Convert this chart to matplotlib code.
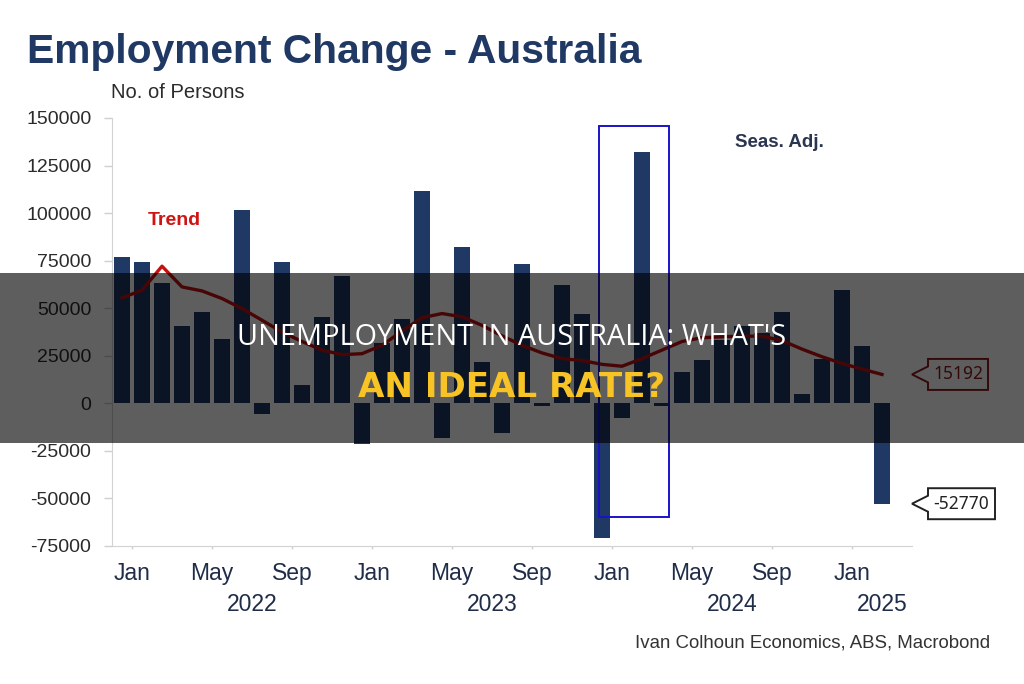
import matplotlib
matplotlib.use("Agg")
import matplotlib.pyplot as plt
import numpy as np
from matplotlib.patches import Rectangle, Polygon
from matplotlib.transforms import Affine2D, blended_transform_factory

plt.rcParams['font.family'] = ['Liberation Sans', 'DejaVu Sans']

# monthly data, Dec 2021 .. Feb 2025 (index 0 = Dec 2021)
months = ['Dec21', 'Jan22', 'Feb22', 'Mar22', 'Apr22', 'May22', 'Jun22', 'Jul22', 'Aug22', 'Sep22',
          'Oct22', 'Nov22', 'Dec22', 'Jan23', 'Feb23', 'Mar23', 'Apr23', 'May23', 'Jun23', 'Jul23',
          'Aug23', 'Sep23', 'Oct23', 'Nov23', 'Dec23', 'Jan24', 'Feb24', 'Mar24', 'Apr24', 'May24',
          'Jun24', 'Jul24', 'Aug24', 'Sep24', 'Oct24', 'Nov24', 'Dec24', 'Jan25', 'Feb25']
seas_adj = [76800, 74200, 63300, 40700, 48100, 34000, 101700, -5600, 74200, 9800,
            45300, 67000, -21600, 31700, 44200, 111700, -18300, 82100, 21700, -15600,
            73000, -1200, 62300, 47000, -71000, -7500, 131900, -1200, 16500, 23000,
            33200, 40500, 36800, 48100, 5100, 23500, 59800, 30200, -52770]
trend = [55400, 59500, 72100, 61200, 59100, 55100, 49800, 43700, 37500, 32500,
         28000, 25600, 26100, 30500, 38000, 45000, 47200, 45500, 41000, 35500,
         30500, 26500, 23500, 22500, 20500, 19500, 23500, 28000, 32500, 34500,
         35000, 35300, 35300, 33000, 28500, 24500, 21000, 18000, 15192]

tick_pos = [0.5, 4.5, 8.5, 12.5, 16.5, 20.5, 24.5, 28.5, 32.5, 36.5]
tick_labels = ['Jan', 'May', 'Sep', 'Jan', 'May', 'Sep', 'Jan', 'May', 'Sep', 'Jan']
jan_pos = [0.5, 12.5, 24.5, 36.5]
years = ['2022', '2023', '2024', '2025']
yticks = list(range(-75000, 150001, 25000))

# highlighted months (Dec23 - Mar24)
box_x = (23.87, 27.35)
box_y = (-60000, 146000)

navy = '#1f3864'
x = np.arange(len(months))
x_end = len(months) + 0.5

fig = plt.figure(figsize=(10.24, 6.84), dpi=100)
ax = fig.add_axes([112/1024, 1-546/684, 800/1024, 428/684])

ax.bar(x, seas_adj, width=0.82, color=navy, zorder=2)
ax.plot(x, trend, color='#c41010', lw=2.4, zorder=3)
ax.add_patch(Rectangle((box_x[0], box_y[0]), box_x[1]-box_x[0], box_y[1]-box_y[0],
                       fill=False, edgecolor='#1a12c8', lw=1.4, zorder=4))

ax.set_xlim(-0.5, x_end)
ax.set_ylim(-75000, 150000)

ax.set_yticks(yticks)
ax.set_yticklabels([str(v) for v in yticks])
ax.tick_params(axis='y', length=5.8, width=1, color='#cfcfcf', pad=9, labelsize=14, labelcolor='#2b2b2b')

ax.set_xticks(tick_pos)
ax.set_xticklabels(tick_labels)
ax.set_xticks(jan_pos, minor=True)
ax.tick_params(axis='x', which='major', length=2.2, width=1, color='#cfcfcf', pad=9,
               labelsize=16.5, labelcolor='#1f2d48')
ax.tick_params(axis='x', which='minor', length=6.5, width=1, color='#cfcfcf')

for s in ['top', 'right']:
    ax.spines[s].set_visible(False)
for s in ['left', 'bottom']:
    ax.spines[s].set_color('#d2d2d2')

# year labels centred on the visible part of each year
trans = blended_transform_factory(ax.transData, ax.transAxes)
bounds = jan_pos + [x_end]
for i, yr in enumerate(years):
    ax.text((bounds[i]+bounds[i+1])/2, -0.152, yr, transform=trans, ha='center', va='baseline',
            fontsize=16.5, color='#1f2d48')

ax.text(1.28, 93500, 'Trend', color='#d01414', fontsize=14, fontweight='bold', va='baseline')
ax.text(30.67, 134500, 'Seas. Adj.', color='#2a3550', fontsize=13.5, fontweight='bold', va='baseline')

fig.text(27/1024, 1-63.3/684, 'Employment Change - Australia', fontsize=29.3, fontweight='bold',
         color=navy, va='baseline')
fig.text(111/1024, 1-97.7/684, 'No. of Persons', fontsize=14.5, color='#2b2b2b', va='baseline')
fig.text(990/1024, 1-647.3/684, 'Ivan Colhoun Economics, ABS, Macrobond', fontsize=13.4,
         color='#333333', ha='right', va='baseline')

# value tags at the right of the plot
fig.canvas.draw()
def tag(value, text, color, width):
    x0 = ax.transAxes.transform((1, 0))[0]
    y0 = ax.transData.transform((0, value))[1]
    pts = [(0, 0), (16, 8), (16, 15.5), (16+width, 15.5), (16+width, -15.5), (16, -15.5), (16, -8)]
    ax.add_patch(Polygon(pts, closed=True, facecolor='white', edgecolor=color, lw=1.4,
                         transform=Affine2D().translate(x0, y0), clip_on=False, zorder=5))
    ax.annotate(text, xy=(1, value), xycoords=ax.get_yaxis_transform(),
                xytext=(16+width/2, 0), textcoords='offset pixels', ha='center', va='center',
                fontsize=12.5, color=color, family='Noto Sans', zorder=6, annotation_clip=False)

tag(trend[-1], '15192', '#8e1a1a', 60)
tag(seas_adj[-1], '-52770', '#222222', 67)

# banner overlay
fig.patches.append(Rectangle((0, 1-443/684), 1, 170/684, transform=fig.transFigure,
                             facecolor='black', alpha=0.63, zorder=10))
fig.text(0.5, 1-345/684, "UNEMPLOYMENT IN AUSTRALIA: WHAT'S", fontsize=20.8, color='white',
         family='Open Sans', ha='center', va='baseline', zorder=11)
fig.text(0.5, 1-397.3/684, 'AN IDEAL RATE?', fontsize=24.6, color='#f7c325', fontweight='bold',
         family='DejaVu Sans', ha='center', va='baseline', zorder=11)

fig.savefig('out.png', dpi=100)
